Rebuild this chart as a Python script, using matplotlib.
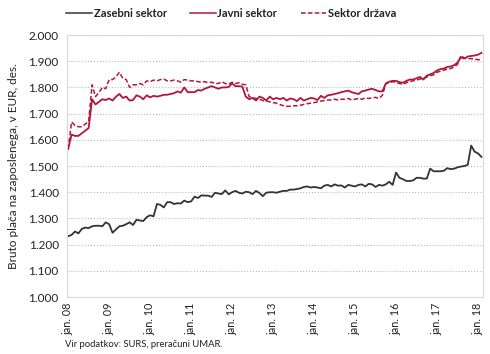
import numpy as np
import matplotlib
matplotlib.use("Agg")
import matplotlib.pyplot as plt
from matplotlib.ticker import FuncFormatter

# monthly data, jan. 2008 - feb. 2018
zasebni = [1232,1237,1250,1243,1260,1265,1263,1270,1272,1272,1270,1285,
           1278,1245,1258,1270,1272,1278,1285,1275,1295,1292,1290,1305,
           1312,1308,1355,1352,1342,1362,1362,1355,1358,1357,1368,1362,
           1365,1383,1378,1388,1387,1387,1382,1398,1395,1393,1407,1392,
           1400,1405,1398,1395,1402,1400,1393,1405,1397,1385,1398,1400,
           1400,1398,1402,1405,1405,1410,1410,1412,1415,1420,1422,1418,
           1420,1418,1415,1425,1428,1422,1430,1425,1426,1418,1428,1425,
           1422,1428,1430,1422,1432,1430,1420,1428,1425,1430,1440,1428,
           1475,1455,1450,1443,1443,1445,1455,1455,1452,1452,1490,1480,
           1480,1480,1482,1492,1488,1490,1495,1498,1500,1505,1578,1555,
           1548,1535]
javni = [1565,1620,1615,1615,1625,1635,1645,1755,1735,1745,1755,1752,
         1758,1750,1765,1775,1760,1765,1750,1752,1770,1765,1755,1770,
         1762,1768,1765,1768,1772,1772,1775,1778,1785,1780,1800,1782,
         1782,1782,1790,1788,1795,1800,1805,1800,1795,1800,1800,1802,
         1815,1805,1805,1803,1765,1755,1760,1750,1765,1760,1750,1765,
         1755,1760,1755,1760,1750,1758,1755,1748,1760,1750,1755,1760,
         1758,1752,1768,1760,1770,1772,1775,1778,1782,1785,1788,1782,
         1778,1775,1785,1788,1792,1795,1790,1785,1785,1815,1822,1825,
         1825,1820,1818,1825,1830,1830,1835,1840,1830,1845,1850,1855,
         1865,1870,1872,1878,1880,1885,1895,1915,1910,1918,1920,1922,
         1925,1932]
drzava = [1565,1668,1655,1650,1650,1660,1670,1810,1765,1780,1800,1795,
          1830,1830,1840,1858,1835,1830,1800,1810,1810,1815,1810,1825,
          1822,1828,1825,1830,1832,1825,1825,1828,1825,1820,1830,1828,
          1825,1825,1822,1820,1822,1818,1820,1815,1815,1822,1815,1812,
          1820,1815,1818,1812,1810,1765,1760,1758,1755,1750,1748,1745,
          1742,1740,1735,1730,1728,1728,1730,1730,1732,1735,1738,1740,
          1742,1745,1748,1750,1752,1752,1755,1752,1755,1755,1758,1752,
          1755,1758,1755,1760,1758,1760,1762,1758,1770,1815,1818,1822,
          1820,1815,1812,1818,1822,1825,1828,1832,1835,1840,1845,1848,
          1858,1862,1866,1870,1872,1878,1888,1922,1912,1910,1910,1908,
          1906,1905]
xlabels = ["jan. 08", "jan. 09", "jan. 10", "jan. 11", "jan. 12", "jan. 13",
           "jan. 14", "jan. 15", "jan. 16", "jan. 17", "jan. 18"]

plt.rcParams['font.family'] = ['Lato', 'DejaVu Sans']
plt.rcParams['font.size'] = 8.5

fig = plt.figure(figsize=(4.9, 3.54), dpi=100)
ax = fig.add_axes([0.137, 0.161, 0.849, 0.740])

x = np.arange(len(zasebni))
ax.plot(x, zasebni, '-', color="#333333", lw=1.3, label="Zasebni sektor")
ax.plot(x, javni, '-', color="#b0173a", lw=1.3, label="Javni sektor")
ax.plot(x, drzava, '--', color="#b0173a", lw=1.1, dashes=(3, 1.5), label="Sektor država")

ax.set_ylim(1000, 2000)
ax.set_yticks(np.arange(1000, 2001, 100))
ax.yaxis.set_major_formatter(FuncFormatter(lambda v, p: "{:,.3f}".format(v/1000).replace(",", "")))
ax.set_xlim(-0.3, 121.5)
ax.set_xticks(np.arange(0, 121, 12))
ax.set_xticklabels(xlabels, rotation=90)
ax.tick_params(length=0, colors="#222222")
ax.tick_params(axis='x', pad=4, labelsize=7.8)
ax.tick_params(axis='y', pad=6, labelsize=8.5)
ax.grid(axis='y', color="#bbbbbb", ls=':', lw=0.8)
for s in ax.spines.values():
    s.set_color("#d9d9d9")

ax.set_ylabel("Bruto plača na zaposlenega, v EUR, des.", fontsize=8.5, color="#222222", labelpad=7)

leg = fig.legend(loc="upper center", ncol=3, frameon=False, bbox_to_anchor=(0.472, 1.005),
                 prop={'weight': 'bold', 'size': 8}, handlelength=2.3, handletextpad=0.15,
                 columnspacing=2.1)
for t in leg.get_texts():
    t.set_color("#222222")
for h in leg.get_lines():
    h.set_linewidth(1.1)

fig.text(0.133, 0.02, "Vir podatkov: SURS, preračuni UMAR.", fontsize=6.8, color="#222222")

fig.savefig("out.png", dpi=100)
